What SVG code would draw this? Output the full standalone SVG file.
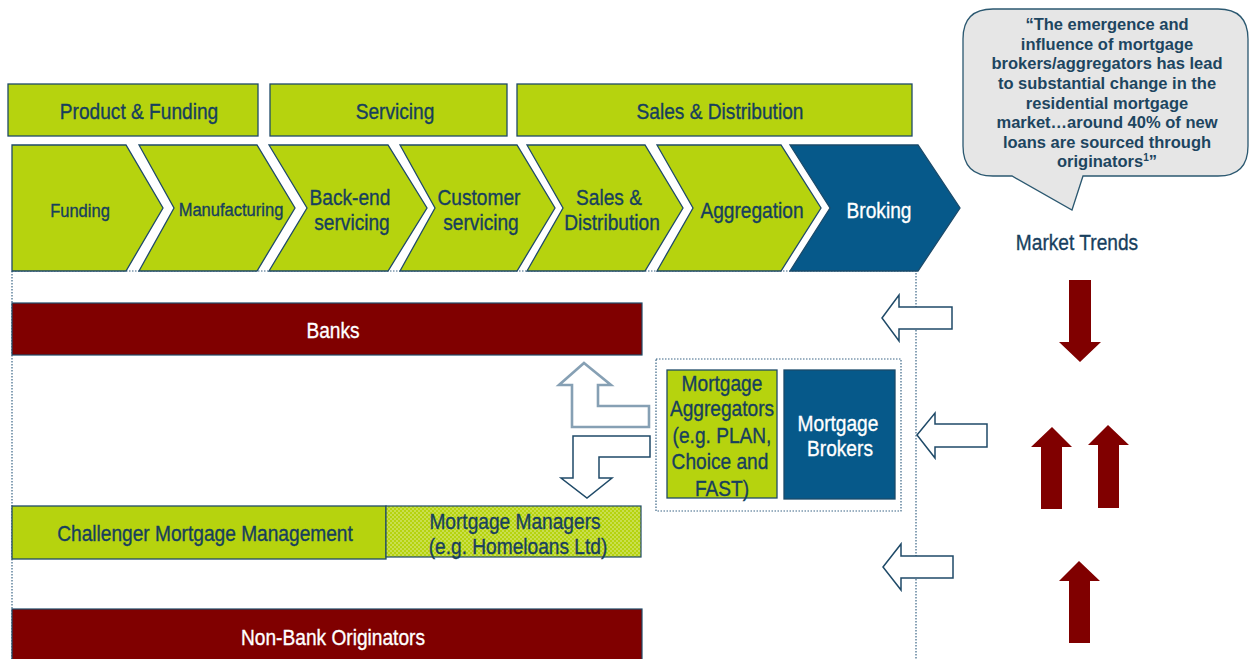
<svg xmlns="http://www.w3.org/2000/svg" width="1250" height="659" viewBox="0 0 1250 659">
  <defs>
    <style>
      .lbl { font-family: "Liberation Sans Narrow", "Liberation Sans", Arial, sans-serif; fill: #173F5E; stroke: #173F5E; stroke-width: 0.35; text-anchor: middle; }
      .wht { fill: #FFFFFF; stroke: #FFFFFF; }
      .big { font-size: 22px; }
      .sm { font-size: 19px; }
      .green { fill: #B6D30E; stroke: #1F4A68; stroke-width: 1.3; }
      .blue { fill: #06598A; stroke: #1A4A6A; stroke-width: 1.3; }
      .red { fill: #800000; stroke: #1F4A68; stroke-width: 1.2; }
      .dots { fill: none; stroke: #3A6585; stroke-width: 1.2; stroke-dasharray: 1.5 1.5; }
      .outarrow { fill: #FFFFFF; stroke: #1F4A68; stroke-width: 1.5; }
      .softarrow { fill: #FFFFFF; stroke: #86A0B4; stroke-width: 2.6; }
      .trend { fill: #800000; }
      .quote { font-family: "Liberation Sans", Arial, sans-serif; font-weight: bold; font-size: 16.5px; fill: #1D4560; text-anchor: middle; }
    </style>
    <pattern id="speckle" width="4" height="4" patternUnits="userSpaceOnUse">
      <rect width="4" height="4" fill="#B6D30E"/>
      <circle cx="1" cy="1" r="0.8" fill="#E2EFA0"/>
      <circle cx="3" cy="3" r="0.8" fill="#E2EFA0"/>
    </pattern>
  </defs>

  <rect width="1250" height="659" fill="#FFFFFF"/>

  <!-- value chain frame (dotted) -->
  <g id="frame">
    <path class="dots" d="M12 271 H916 V659 M12 271 V659"/>
  </g>

  <!-- stage headers (labels condensed horizontally: x = centre / 0.87) -->
  <g id="hdr-product-funding">
    <rect class="green" x="8" y="84" width="250" height="52"/>
    <text class="lbl big" transform="scale(0.87 1)" x="159.77" y="119">Product &amp; Funding</text>
  </g>
  <g id="hdr-servicing">
    <rect class="green" x="270" y="84" width="237" height="52"/>
    <text class="lbl big" transform="scale(0.87 1)" x="454.02" y="119">Servicing</text>
  </g>
  <g id="hdr-sales-distribution">
    <rect class="green" x="517" y="84" width="395" height="52"/>
    <text class="lbl big" transform="scale(0.87 1)" x="827.59" y="119">Sales &amp; Distribution</text>
  </g>

  <!-- value chain chevrons -->
  <g id="chev-funding">
    <polygon class="green" points="12,145 126,145 163,208 126,271 12,271"/>
    <text class="lbl sm" transform="scale(0.87 1)" x="91.95" y="217">Funding</text>
  </g>
  <g id="chev-manufacturing">
    <polygon class="green" points="139,145 257,145 295,208 257,271 139,271 174,208"/>
    <text class="lbl sm" transform="scale(0.87 1)" x="265.52" y="216">Manufacturing</text>
  </g>
  <g id="chev-backend">
    <polygon class="green" points="269,145 388,145 427,208 388,271 269,271 307,208"/>
    <text class="lbl big" transform="scale(0.87 1)" x="402.30" y="205">Back-end</text>
    <text class="lbl big" transform="scale(0.87 1)" x="404.60" y="230">servicing</text>
  </g>
  <g id="chev-customer">
    <polygon class="green" points="400,145 517,145 555,208 517,271 400,271 435,208"/>
    <text class="lbl big" transform="scale(0.87 1)" x="550.57" y="205">Customer</text>
    <text class="lbl big" transform="scale(0.87 1)" x="552.87" y="230">servicing</text>
  </g>
  <g id="chev-sales">
    <polygon class="green" points="527,145 645,145 683,208 645,271 527,271 563,208"/>
    <text class="lbl big" transform="scale(0.87 1)" x="700.00" y="205">Sales &amp;</text>
    <text class="lbl big" transform="scale(0.87 1)" x="703.45" y="230">Distribution</text>
  </g>
  <g id="chev-aggregation">
    <polygon class="green" points="657,145 781,145 821,208 781,271 657,271 693,208"/>
    <text class="lbl big" transform="scale(0.87 1)" x="864.37" y="218">Aggregation</text>
  </g>
  <g id="chev-broking">
    <polygon class="blue" points="790,145 918,145 960,208 918,271 790,271 830,208"/>
    <text class="lbl big wht" transform="scale(0.87 1)" x="1010.34" y="218">Broking</text>
  </g>

  <!-- originators -->
  <g id="banks">
    <rect class="red" x="12" y="303" width="630" height="52"/>
    <text class="lbl big wht" transform="scale(0.87 1)" x="382.76" y="338">Banks</text>
  </g>
  <g id="challenger">
    <rect class="green" x="12" y="506" width="374" height="53"/>
    <text class="lbl big" transform="scale(0.87 1)" x="235.63" y="541">Challenger Mortgage Management</text>
  </g>
  <g id="mortgage-managers">
    <rect x="386" y="506" width="255" height="51" fill="url(#speckle)" stroke="#1F4A68" stroke-width="1.2"/>
    <text class="lbl big" transform="scale(0.87 1)" x="591.95" y="529">Mortgage Managers</text>
    <text class="lbl big" transform="scale(0.87 1)" x="595.40" y="554">(e.g. Homeloans Ltd)</text>
  </g>
  <g id="non-bank">
    <rect class="red" x="12" y="609" width="630" height="55"/>
    <text class="lbl big wht" transform="scale(0.87 1)" x="382.76" y="645">Non-Bank Originators</text>
  </g>

  <!-- intermediaries -->
  <g id="intermediaries">
    <rect class="dots" x="656" y="359" width="245" height="152"/>
  </g>
  <g id="aggregators">
    <rect class="green" x="667" y="370" width="110" height="128"/>
    <text class="lbl big" transform="scale(0.87 1)" x="829.89" y="391">Mortgage</text>
    <text class="lbl big" transform="scale(0.87 1)" x="829.89" y="416">Aggregators</text>
    <text class="lbl big" transform="scale(0.87 1)" x="829.89" y="443">(e.g. PLAN,</text>
    <text class="lbl big" transform="scale(0.87 1)" x="827.59" y="469">Choice and</text>
    <text class="lbl big" transform="scale(0.87 1)" x="829.89" y="496">FAST)</text>
  </g>
  <g id="brokers">
    <rect class="blue" x="784" y="370" width="111" height="129"/>
    <text class="lbl big wht" transform="scale(0.87 1)" x="963.22" y="431">Mortgage</text>
    <text class="lbl big wht" transform="scale(0.87 1)" x="965.52" y="456">Brokers</text>
  </g>

  <!-- market trends -->
  <g id="quote">
    <path d="M993 9 H1218 Q1248 9 1248 39 V146 Q1248 176 1218 176 H1083 L1072 210 L1012 176 H993 Q963 176 963 146 V39 Q963 9 993 9 Z" fill="#E6E6E6" stroke="#2B5870" stroke-width="1.3"/>
    <text class="quote" x="1107" y="30">“The emergence and</text>
    <text class="quote" x="1107" y="50">influence of mortgage</text>
    <text class="quote" x="1107" y="69">brokers/aggregators has lead</text>
    <text class="quote" x="1107" y="89">to substantial change in the</text>
    <text class="quote" x="1107" y="109">residential mortgage</text>
    <text class="quote" x="1107" y="128">market…around 40% of new</text>
    <text class="quote" x="1107" y="148">loans are sourced through</text>
    <text class="quote" x="1107" y="167">originators<tspan font-size="10" dy="-6">1</tspan><tspan dy="6">”</tspan></text>
  </g>
  <g id="market-trends">
    <text class="lbl big" transform="scale(0.87 1)" x="1237.93" y="250">Market Trends</text>
  </g>

  <!-- arrows -->
  <g id="connectors">
    <!-- flows between originators and intermediaries -->
    <polygon class="softarrow" points="584,363 611,385 598,385 598,406 649,406 649,427 572,427 572,385 559,385"/>
    <polygon class="outarrow" points="650,436 573,436 573,478 561,478 587,498 612,478 599,478 599,457 650,457"/>
    <!-- pressure from market trends -->
    <polygon class="outarrow" points="882,318 899,295 899,307 952,307 952,329 899,329 899,341"/>
    <polygon class="outarrow" points="917,435 935,413 935,424 987,424 987,447 935,447 935,458"/>
    <polygon class="outarrow" points="883,567 901,544 901,556 953,556 953,578 901,578 901,590"/>
    <!-- trend direction -->
    <polygon class="trend" points="1069,280 1091,280 1091,342 1101,342 1080,362 1059,342 1069,342"/>
    <polygon class="trend" points="1052,427 1072,447 1062,447 1062,509 1041,509 1041,447 1031,447"/>
    <polygon class="trend" points="1108,425 1129,445 1119,445 1119,508 1098,508 1098,445 1088,445"/>
    <polygon class="trend" points="1079,561 1100,581 1090,581 1090,643 1069,643 1069,581 1059,581"/>
  </g>
</svg>
